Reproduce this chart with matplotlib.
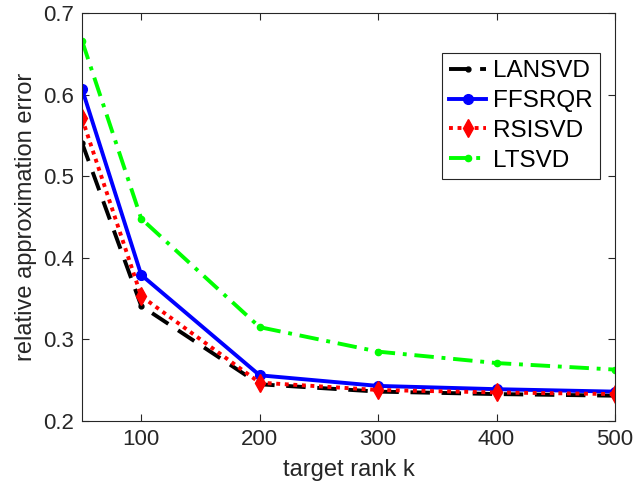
import numpy as np
import matplotlib.pyplot as plt

plt.rcParams['font.family'] = ['Liberation Sans', 'DejaVu Sans']

# target rank values
k = [50, 100, 200, 300, 400, 500]

# relative approximation error
lansvd = [0.541, 0.341, 0.245, 0.236, 0.233, 0.231]
ffsrqr = [0.607, 0.379, 0.256, 0.243, 0.239, 0.236]
rsisvd = [0.571, 0.353, 0.247, 0.238, 0.235, 0.233]
ltsvd = [0.666, 0.448, 0.315, 0.285, 0.271, 0.263]

fig = plt.figure(figsize=(6.36, 4.96), dpi=100)
ax = fig.add_axes([82 / 636, 75 / 496, 533 / 636, 408 / 496])

ax.plot(k, lansvd, color='black', linestyle=(0, (5, 3)), linewidth=2.8,
        marker='.', markersize=7, label='LANSVD')
ax.plot(k, ffsrqr, color='blue', linestyle='-', linewidth=2.8,
        marker='o', markersize=7, label='FFSRQR')
ax.plot(k, rsisvd, color='red', linestyle=(0, (1, 1.2)), linewidth=2.8,
        marker='d', markersize=9, label='RSISVD')
ax.plot(k, ltsvd, color='#00ff00', linestyle=(0, (5, 2, 1, 2)), linewidth=2.8,
        marker='.', markersize=9, label='LTSVD')

ax.set_xlim(50, 500)
ax.set_ylim(0.2, 0.7)
ax.set_xticks([100, 200, 300, 400, 500])
ax.set_yticks([0.2, 0.3, 0.4, 0.5, 0.6, 0.7])
ax.tick_params(direction='in', top=True, right=True, labelsize=16,
               colors='#262626', length=5, width=0.8, pad=6)
for s in ax.spines.values():
    s.set_color('#262626')
    s.set_linewidth(0.8)

ax.set_xlabel('target rank k', fontsize=17, color='#262626', labelpad=6)
ax.set_ylabel('relative approximation error', fontsize=17, color='#262626')

leg = ax.legend(loc='upper right', bbox_to_anchor=(0.972, 0.902), fontsize=17.5,
                fancybox=False, framealpha=1, edgecolor='#262626',
                handlelength=1.5, handletextpad=0.3, borderpad=0.3,
                labelspacing=0.32, borderaxespad=0.0)
leg.get_frame().set_linewidth(0.8)

fig.savefig('out.png', dpi=100)
